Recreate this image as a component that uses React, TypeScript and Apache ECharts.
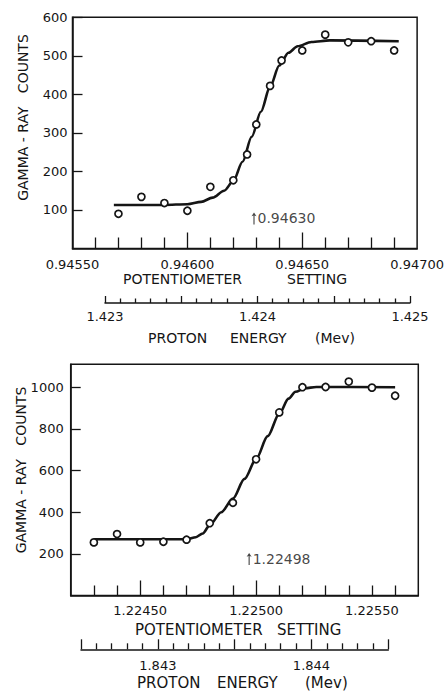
import React, { useEffect, useRef } from 'react';
import * as echarts from 'echarts';

// ---------- top panel data ----------
const topPointX = [0.9457, 0.9458, 0.9459, 0.946, 0.9461, 0.9462, 0.94626, 0.9463, 0.94636, 0.94641, 0.9465, 0.9466, 0.9467, 0.9468, 0.9469];
const topPointY = [90, 134, 118, 98, 160, 177, 244, 322, 422, 488, 514, 555, 535, 538, 514];
const topCurveX = [0.94568, 0.9459, 0.946, 0.94606, 0.94611, 0.94616, 0.9462, 0.94624, 0.94628, 0.94632, 0.94636, 0.9464, 0.94644, 0.94648, 0.94654, 0.94662, 0.94692];
const topCurveY = [113, 113, 115, 121, 132, 150, 175, 225, 290, 355, 420, 475, 508, 525, 536, 540, 538];
const topNote = { x: 0.94629, y: 78, text: '0.94630' };

const topPotMinor = [0.9456, 0.9457, 0.9458, 0.9459, 0.9461, 0.9462, 0.9463, 0.9464, 0.9466, 0.9467, 0.9468, 0.9469];
const topPotMajor = [0.946, 0.9465];
const topPotLabels = [0.9455, 0.946, 0.9465, 0.947];
const topEnergyMinor = [1.4231, 1.4232, 1.4233, 1.4234, 1.4236, 1.4237, 1.4238, 1.4239, 1.4241, 1.4242, 1.4243, 1.4244, 1.4246, 1.4247, 1.4248, 1.4249];
const topEnergyMajor = [1.423, 1.4235, 1.424, 1.4245, 1.425];
const topEnergyLabels = [1.423, 1.424, 1.425];
const topCountTicks = [100, 200, 300, 400, 500, 600];

// ---------- bottom panel data ----------
const botPointX = [1.2243, 1.2244, 1.2245, 1.2246, 1.2247, 1.2248, 1.2249, 1.225, 1.2251, 1.2252, 1.2253, 1.2254, 1.2255, 1.2256];
const botPointY = [255, 295, 255, 258, 268, 347, 445, 654, 879, 1000, 1001, 1027, 998, 959];
const botCurveX = [1.2243, 1.2247, 1.22474, 1.22477, 1.2248, 1.22485, 1.2249, 1.22495, 1.225, 1.22505, 1.2251, 1.22514, 1.22517, 1.22521, 1.22526, 1.2256];
const botCurveY = [270, 270, 280, 298, 338, 400, 465, 560, 655, 765, 872, 945, 978, 995, 1001, 1000];
const botNote = { x: 1.22497, y: 175, text: '1.22498' };

const botPotMinor = [1.2243, 1.2244, 1.2246, 1.2247, 1.2248, 1.2249, 1.2251, 1.2252, 1.2253, 1.2254, 1.2255, 1.2256];
const botPotMajor = [1.2245, 1.225];
const botPotLabels = [1.2245, 1.225, 1.2255];
const botEnergyMinor = [1.8426, 1.8427, 1.8428, 1.8429, 1.8431, 1.8432, 1.8433, 1.8434, 1.8436, 1.8437, 1.8438, 1.8439, 1.8441, 1.8442, 1.8443, 1.8444];
const botEnergyMajor = [1.8425, 1.843, 1.8435, 1.844, 1.8445];
const botEnergyLabels = [1.843, 1.844];
const botCountTicks = [200, 400, 600, 800, 1000];

const INK = '#151515';
const FONT = 'DejaVu Sans';

const zip = (xs: number[], ys: number[]) => xs.map((x, i) => [x, ys[i]]);
const ARROW = 'path://M5,0 L9.5,8 L6,6.5 L6,26 L4,26 L4,6.5 L0.5,8 Z';

function xPair(grid: number, min: number, max: number, minor: number[], major: number[], labels: number[], minorLen: number, majorLen: number, digits: number, margin: number) {
  return [
    {
      type: 'value', gridIndex: grid, min, max, position: 'bottom',
      axisLine: { show: true, onZero: false, lineStyle: { color: INK, width: 1.5 } },
      axisTick: { show: true, inside: true, length: minorLen, customValues: minor, lineStyle: { color: INK, width: 1.3 } },
      axisLabel: { show: false },
      splitLine: { show: false },
    },
    {
      type: 'value', gridIndex: grid, min, max, position: 'bottom',
      axisLine: { show: false, onZero: false },
      axisTick: { show: true, inside: true, length: majorLen, customValues: major, lineStyle: { color: INK, width: 1.3 } },
      axisLabel: { show: true, customValues: labels, formatter: (v: number) => v.toFixed(digits), margin, color: INK, fontSize: 13, fontFamily: FONT },
      splitLine: { show: false },
    },
  ];
}

function yMain(grid: number, max: number, ticks: number[], margin: number) {
  return {
    type: 'value', gridIndex: grid, min: 0, max,
    axisLine: { show: true, onZero: false, lineStyle: { color: INK, width: 1.5 } },
    axisTick: { show: true, inside: true, length: 10, customValues: ticks, lineStyle: { color: INK, width: 1.3 } },
    axisLabel: { show: true, customValues: ticks, formatter: (v: number) => String(v), margin, color: INK, fontSize: 13, fontFamily: FONT },
    splitLine: { show: false },
  };
}

function yHidden(grid: number) {
  return { type: 'value', gridIndex: grid, min: 0, max: 1, show: false };
}

function text(t: string, x: number, y: number, size: number, align = 'center', rotation = 0) {
  return {
    type: 'text', x, y, rotation,
    style: { text: t, align, verticalAlign: 'middle', fontSize: size, fontFamily: FONT, fill: INK },
  };
}

export default function App() {
  const ref = useRef<HTMLDivElement>(null);
  useEffect(() => {
    const chart = echarts.init(ref.current!, null, { renderer: 'svg' });
    const option: any = {
      animation: false,
      backgroundColor: '#ffffff',
      grid: [
        { left: 72.5, top: 17.3, width: 346.8, height: 231.2, show: true, borderColor: INK, borderWidth: 1.5, backgroundColor: 'transparent' },
        { left: 105, top: 253, width: 305, height: 50, show: false },
        { left: 70.7, top: 364.3, width: 347.6, height: 231.2, show: true, borderColor: INK, borderWidth: 1.5, backgroundColor: 'transparent' },
        { left: 81, top: 600, width: 307.3, height: 49.3, show: false },
      ],
      xAxis: [
        ...xPair(0, 0.9455, 0.947, topPotMinor, topPotMajor, topPotLabels, 11, 16, 5, 9),
        ...xPair(1, 1.423, 1.425, topEnergyMinor, topEnergyMajor, topEnergyLabels, 4.5, 7, 3, 7),
        ...xPair(2, 1.2242, 1.2257, botPotMinor, botPotMajor, botPotLabels, 10, 15, 5, 8),
        ...xPair(3, 1.8425, 1.8445, botEnergyMinor, botEnergyMajor, botEnergyLabels, 6, 10, 3, 10),
      ],
      yAxis: [
        yMain(0, 600, topCountTicks, 5),
        yHidden(1),
        yMain(2, 1110, botCountTicks, 7),
        yHidden(3),
      ],
      series: [
        { type: 'line', xAxisIndex: 0, yAxisIndex: 0, data: zip(topCurveX, topCurveY), showSymbol: false, smooth: 0.3, smoothMonotone: 'x', lineStyle: { color: INK, width: 2.6 }, z: 2 },
        { type: 'scatter', xAxisIndex: 0, yAxisIndex: 0, data: zip(topPointX, topPointY), symbol: 'circle', symbolSize: 7, itemStyle: { color: '#fff', borderColor: INK, borderWidth: 1.7, opacity: 1 }, z: 3 },
        { type: 'scatter', xAxisIndex: 0, yAxisIndex: 0, data: [[topNote.x, topNote.y]], symbol: ARROW, symbolSize: [5, 12], itemStyle: { color: INK },
          label: { show: true, position: 'right', distance: 1, formatter: topNote.text, color: INK, fontSize: 14, fontFamily: FONT }, z: 3 },
        { type: 'line', xAxisIndex: 4, yAxisIndex: 2, data: zip(botCurveX, botCurveY), showSymbol: false, smooth: 0.3, smoothMonotone: 'x', lineStyle: { color: INK, width: 2.6 }, z: 2 },
        { type: 'scatter', xAxisIndex: 4, yAxisIndex: 2, data: zip(botPointX, botPointY), symbol: 'circle', symbolSize: 7, itemStyle: { color: '#fff', borderColor: INK, borderWidth: 1.7, opacity: 1 }, z: 3 },
        { type: 'scatter', xAxisIndex: 4, yAxisIndex: 2, data: [[botNote.x, botNote.y]], symbol: ARROW, symbolSize: [5, 12], itemStyle: { color: INK },
          label: { show: true, position: 'right', distance: 1, formatter: botNote.text, color: INK, fontSize: 14, fontFamily: FONT }, z: 3 },
      ],
      graphic: [
        text('GAMMA - RAY   COUNTS', 22.5, 117.5, 14, 'center', Math.PI / 2),
        text('GAMMA - RAY   COUNTS', 21, 470, 14, 'center', Math.PI / 2),
        text('POTENTIOMETER', 123, 279, 14, 'left'),
        text('SETTING', 287, 279, 14, 'left'),
        text('PROTON', 148, 338, 14, 'left'),
        text('ENERGY', 230, 338, 14, 'left'),
        text('(Mev)', 315, 338, 14, 'left'),
        text('POTENTIOMETER', 135, 630, 15, 'left'),
        text('SETTING', 277, 630, 15, 'left'),
        text('PROTON', 137, 683, 15, 'left'),
        text('ENERGY', 217, 683, 15, 'left'),
        text('(Mev)', 305, 683, 15, 'left'),
      ],
    };
    chart.setOption(option);
    return () => chart.dispose();
  }, []);
  return <div ref={ref} style={{ position: 'fixed', left: 0, top: 0, width: 447, height: 692, background: '#fff' }} />;
}
